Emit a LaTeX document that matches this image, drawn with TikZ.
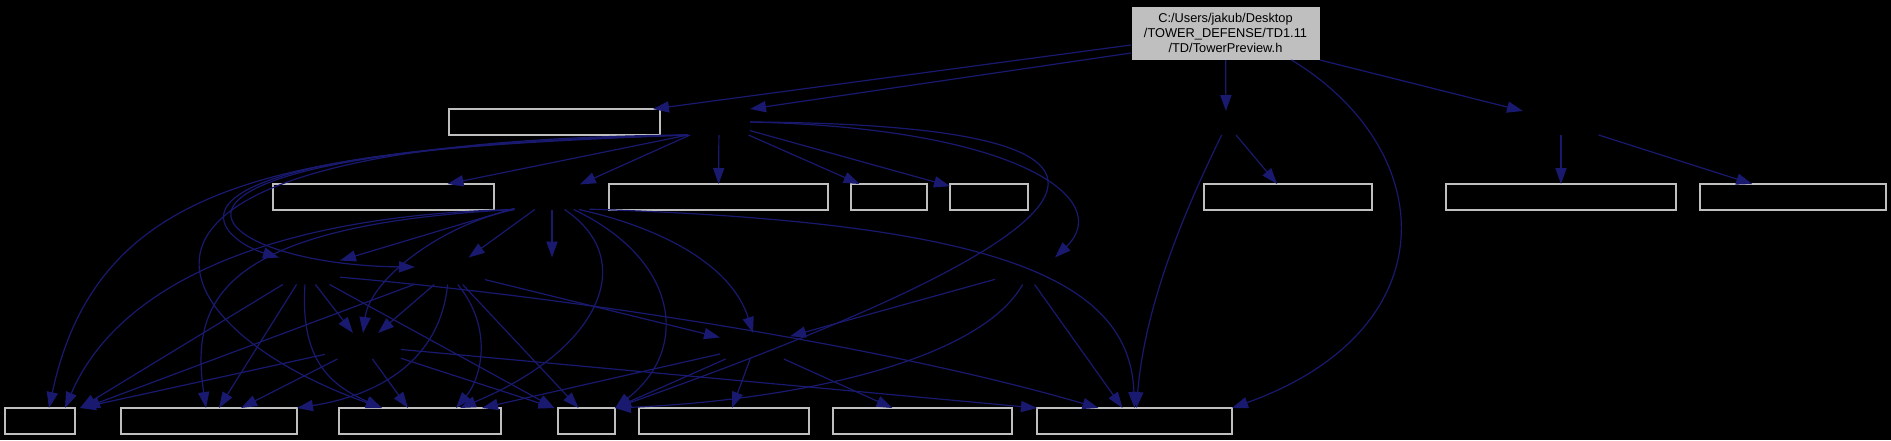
\documentclass[tikz,border=0pt]{standalone}
\usepackage{fontspec}
\setmainfont{Liberation Sans}
\usepackage{tikz}
\usetikzlibrary{arrows.meta}
\definecolor{edgeblue}{RGB}{25,25,112}
\definecolor{rimgray}{RGB}{191,191,191}

\begin{document}
\begin{tikzpicture}[x=0.5pt,y=-0.5pt,
  font=\fontsize{6.4}{7.5}\selectfont,
  file/.style={draw=rimgray,fill=black,line width=0.6pt,inner sep=0pt,outer sep=0pt,minimum height=13pt},
  hidden/.style={inner sep=0pt,outer sep=0pt,minimum height=13pt},
  rootbox/.style={draw=black,fill=rimgray,align=center,inner sep=0pt,outer sep=0pt,minimum width=94.5pt,minimum height=27pt},
  arr/.style={-{Triangle[length=8pt,width=5.6pt]},color=edgeblue,line width=0.6pt}]
\path[use as bounding box,fill=black] (0,0) rectangle (1891,440);
\node[rootbox] (preview) at (1225.5,33) {C:/Users/jakub/Desktop\\/TOWER\_DEFENSE/TD1.11\\/TD/TowerPreview.h};
\node[file,minimum width=105.5pt] (a1) at (554.5,122) {};
\node[hidden,minimum width=31pt] (core) at (719,122) {};
\node[hidden,minimum width=20pt,minimum height=12pt] (c1) at (1226,123) {};
\node[hidden,minimum width=50pt,minimum height=12pt] (d1) at (1561,123) {};
\node[file,minimum width=110.5pt] (e1) at (383.5,197) {};
\node[hidden,minimum width=37.5pt,minimum height=12.5pt] (hub) at (552,197) {};
\node[file,minimum width=109.5pt] (g1) at (718.5,197) {};
\node[file,minimum width=38pt] (h1) at (889,197) {};
\node[file,minimum width=39pt] (i1) at (989,197) {};
\node[file,minimum width=84pt] (j1) at (1288,197) {};
\node[file,minimum width=115pt] (k1) at (1561,197) {};
\node[file,minimum width=93pt] (l1) at (1793,197) {};
\node[hidden,minimum width=35pt,minimum height=13.5pt] (m1) at (305,271) {};
\node[hidden,minimum width=35pt,minimum height=13.5pt] (n1) at (450,271) {};
\node[hidden,minimum width=25pt,minimum height=13.5pt] (o1) at (552,271) {};
\node[hidden,minimum width=30pt,minimum height=13.5pt] (p1) at (1025,271) {};
\node[hidden,minimum width=38pt] (r1) at (363,346) {};
\node[hidden,minimum width=35pt] (q1) at (755,346) {};
\node[file,minimum width=35pt] (s1) at (40,421) {};
\node[file,minimum width=88pt] (s2) at (209,421) {};
\node[file,minimum width=81pt] (s3) at (420,421) {};
\node[file,minimum width=28.5pt] (s4) at (586.5,421) {};
\node[file,minimum width=85pt] (s5) at (724,421) {};
\node[file,minimum width=89.5pt] (s6) at (922.5,421) {};
\node[file,minimum width=97.5pt] (s7) at (1134.5,421) {};
\draw[arr] ([yshift=-6pt]preview.west) -- ([xshift=-3.5pt]a1.north east);
\draw[arr] ([yshift=-10pt]preview.west) -- (core.north east);
\draw[arr] (preview) -- (c1);
\draw[arr] (preview.south east) -- ([xshift=6pt]d1.north west);
\draw[arr] ([xshift=33pt]preview.south) .. controls (1440,150) and (1450,330) .. (s7.north east);
\draw[arr] (core.south west) -- ([xshift=32pt]e1.north);
\draw[arr] (core) -- (hub);
\draw[arr] (core) -- (g1);
\draw[arr] (core) -- (h1);
\draw[arr] (core) -- (i1);
\draw[arr] (core.south west) .. controls (100,150) and (220,240) .. ([xshift=4.5pt]m1.north west);
\draw[arr] (core.south west) .. controls (60,150) and (200,265) .. ([yshift=2pt]n1.west);
\draw[arr] (core.south west) .. controls (300,150) and (100,170) .. ([xshift=4.5pt]s1.north);
\draw[arr] (core.south west) .. controls (30,140) and (160,330) .. ([xshift=-19pt]s3.north);
\draw[arr] (core.east) .. controls (1020,128) and (1115,200) .. (p1.north east);
\draw[arr] (core.east) .. controls (1250,125) and (1060,250) .. (s4.north east);
\draw[arr] (hub) -- (m1);
\draw[arr] (hub) -- (n1);
\draw[arr] (hub) -- (o1);
\draw[arr] (hub.south west) .. controls (440,225) and (370,280) .. (r1.north);
\draw[arr] (hub.-25) .. controls (650,225) and (730,260) .. ([xshift=-1pt]q1.north);
\draw[arr] (hub.south west) .. controls (280,215) and (120,280) .. ([xshift=12.5pt]s1.north);
\draw[arr] (hub.south west) .. controls (220,225) and (190,300) .. ([xshift=-1.5pt]s2.north);
\draw[arr] (hub.-45) .. controls (640,260) and (600,350) .. ([xshift=20pt]s3.north);
\draw[arr] (hub.-30) .. controls (680,260) and (690,350) .. (s4.north east);
\draw[arr] (hub.-18) .. controls (1000,222) and (1130,280) .. (s7.north);
\draw[arr] (m1) -- ([xshift=20pt]s1.north);
\draw[arr] (m1) -- ([xshift=5pt]s2.north);
\draw[arr] (m1.south) .. controls (300,360) and (330,385) .. ([xshift=-19pt]s3.north);
\draw[arr] (m1) -- (r1);
\draw[arr] (m1) -- ([xshift=-16pt]s4.north);
\draw[arr] (m1.-10) .. controls (600,300) and (900,350) .. ([xshift=-18pt]s7.north);
\draw[arr] (n1) -- (r1);
\draw[arr] (n1) -- ([xshift=22pt]s1.north);
\draw[arr] (n1.-100) .. controls (440,360) and (380,395) .. (s2.north east);
\draw[arr] (n1.-60) .. controls (495,330) and (480,380) .. ([xshift=18pt]s3.north);
\draw[arr] (n1) -- ([xshift=-4pt]s4.north);
\draw[arr] (n1) -- (q1);
\draw[arr] (r1) -- ([xshift=20pt]s1.north);
\draw[arr] (r1) -- ([xshift=16pt]s2.north);
\draw[arr] (r1) -- ([xshift=-6pt]s3.north);
\draw[arr] (r1) -- ([xshift=-16pt]s4.north);
\draw[arr] (r1) -- (s7.north west);
\draw[arr] (p1) -- (q1);
\draw[arr] (p1.-100) .. controls (980,360) and (800,400) .. (s4.north east);
\draw[arr] (p1) -- ([xshift=-6pt]s7.north);
\draw[arr] (q1) -- ([xshift=31pt]s3.north);
\draw[arr] (q1) -- (s4.north east);
\draw[arr] (q1) -- ([xshift=4pt]s5.north);
\draw[arr] (q1) -- ([xshift=-15pt]s6.north);
\draw[arr] (c1) -- (j1);
\draw[arr] (c1.-110) .. controls (1190,200) and (1145,300) .. ([xshift=1pt]s7.north);
\draw[arr] (d1) -- (k1);
\draw[arr] (d1) -- (l1);
\end{tikzpicture}
\end{document}
